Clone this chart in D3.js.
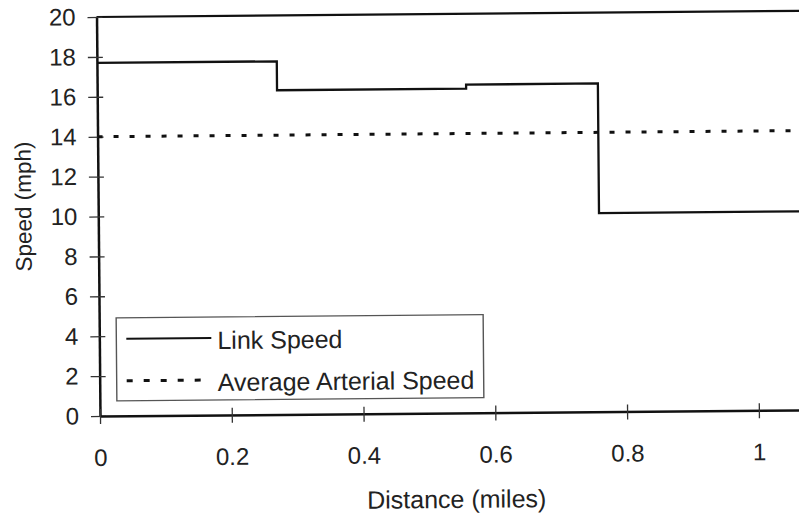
<!DOCTYPE html>
<html>
<head>
<meta charset="utf-8">
<script src="https://cdn.jsdelivr.net/npm/d3@7"></script>
<style>
  body { margin: 0; background: #fff; }
  text { font-family: "Liberation Sans", Arial, sans-serif; fill: #222; }
</style>
</head>
<body>
<div id="chart"></div>
<script>
// data
var segStart = [0, 0.273, 0.56, 0.76];
var segEnd = [0.273, 0.56, 0.76, 1.07];
var linkSpeed = [17.7, 16.25, 16.45, 9.95];
var avgSpeed = [14, 14];
var avgDistance = [0, 1.07];
var xTicks = [0, 0.2, 0.4, 0.6, 0.8, 1];
var yTicks = [0, 2, 4, 6, 8, 10, 12, 14, 16, 18, 20];
var legendLabels = ['Link Speed', 'Average Arterial Speed'];

// dimensions of the graph (right side runs off the page like the scan)
var margin = {top: 17, right: 0, bottom: 98, left: 100},
    width = 705,
    height = 399;

var svg = d3.select('#chart').append('svg')
            .attr('width', 799)
            .attr('height', 514);

// the scan is tilted a little, so rotate everything around the origin
var g = svg.append('g')
           .attr('transform', 'rotate(-0.5,' + margin.left + ',' + (margin.top + height) + ') translate(' + margin.left + ',' + margin.top + ')');

var x = d3.scaleLinear().domain([0, 1.07]).range([0, width]);
var y = d3.scaleLinear().domain([0, 20]).range([height, 0]);

// top border of the plot
g.append('line')
  .attr('x1', x(0)).attr('x2', x(1.07))
  .attr('y1', y(20)).attr('y2', y(20))
  .attr('stroke', '#111').attr('stroke-width', 2.2);

// y axis
var yAxis = g.append('g')
  .call(d3.axisLeft(y).tickValues(yTicks).tickSizeInner(9).tickSizeOuter(0).tickPadding(12));
yAxis.select('.domain').attr('stroke', '#111').attr('stroke-width', 2.5);
yAxis.selectAll('.tick line').attr('x1', 6).attr('stroke', '#333').attr('stroke-width', 1.3);
yAxis.selectAll('.tick text')
  .attr('font-family', '"Liberation Sans", Arial, sans-serif')
  .attr('font-size', 24).attr('fill', '#222');

// x axis
var xAxis = g.append('g')
  .attr('transform', 'translate(0,' + height + ')')
  .call(d3.axisBottom(x).tickValues(xTicks).tickFormat(d3.format('')).tickSizeInner(8).tickSizeOuter(0));
xAxis.select('.domain').attr('stroke', '#111').attr('stroke-width', 2.5);
xAxis.selectAll('.tick line').attr('y1', -7).attr('stroke', '#333').attr('stroke-width', 1.3);
xAxis.selectAll('.tick text')
  .attr('y', 33)
  .attr('font-family', '"Liberation Sans", Arial, sans-serif')
  .attr('font-size', 24).attr('fill', '#222');

// link speed steps
var linkPts = [];
linkSpeed.forEach(function(v, i){
  linkPts.push([segStart[i], v]);
  linkPts.push([segEnd[i], v]);
});
var line = d3.line()
  .x(function(d){ return x(d[0]); })
  .y(function(d){ return y(d[1]); });

g.append('path')
  .datum(linkPts)
  .attr('fill', 'none')
  .attr('stroke', '#111')
  .attr('stroke-width', 2.3)
  .attr('d', line);

// average arterial speed
g.append('path')
  .datum(avgDistance.map(function(d, i){ return [d, avgSpeed[i]]; }))
  .attr('fill', 'none')
  .attr('stroke', '#111')
  .attr('stroke-width', 3)
  .attr('stroke-dasharray', '5,11')
  .attr('d', line);

// axis titles
g.append('text')
  .attr('x', 356).attr('y', height + 95)
  .attr('text-anchor', 'middle')
  .attr('font-size', 25)
  .text('Distance (miles)');

g.append('text')
  .attr('transform', 'translate(-67,' + 189 + ') rotate(-90)')
  .attr('text-anchor', 'middle')
  .attr('font-size', 22.5)
  .text('Speed (mph)');

// legend
var leg = g.append('g').attr('transform', 'translate(17,301)');
leg.append('rect')
  .attr('width', 367).attr('height', 83)
  .attr('fill', '#fff')
  .attr('stroke', '#555').attr('stroke-width', 1.4);

var items = leg.selectAll('.item').data(legendLabels).enter().append('g')
  .attr('transform', function(d, i){ return 'translate(0,' + (21 + i * 42) + ')'; });
items.append('line')
  .attr('x1', 10).attr('x2', 95)
  .attr('stroke', '#111')
  .attr('stroke-width', function(d, i){ return i ? 3 : 2; })
  .attr('stroke-dasharray', function(d, i){ return i ? '6,11' : null; });
items.append('text')
  .attr('x', 101).attr('y', 11)
  .attr('font-size', 25)
  .text(function(d){ return d; });
</script>
</body>
</html>
